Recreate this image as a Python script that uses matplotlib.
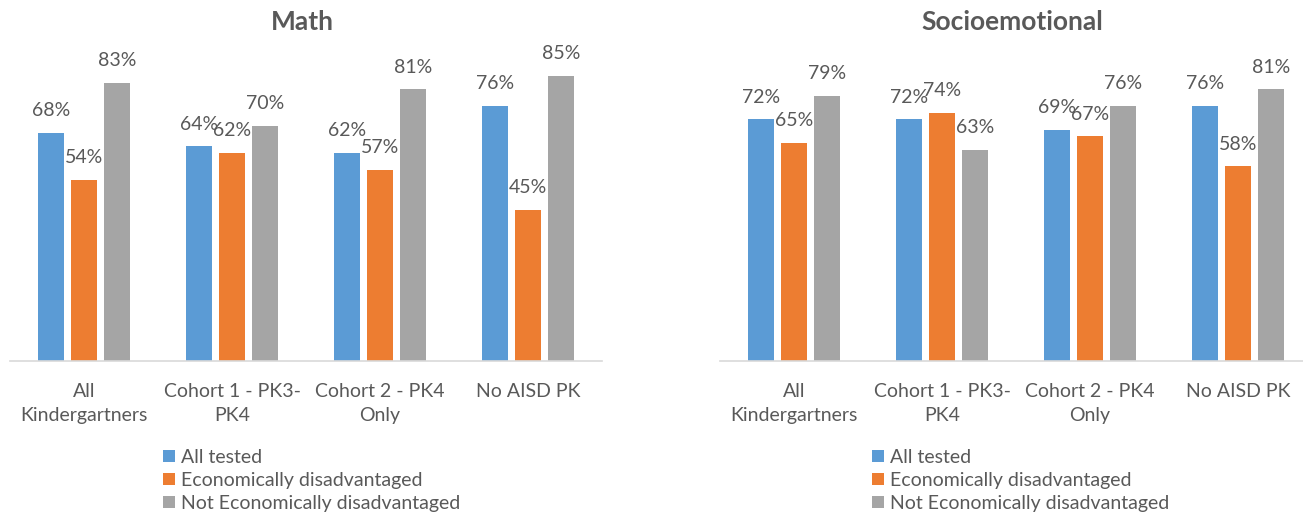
import matplotlib
matplotlib.use("Agg")
import matplotlib.pyplot as plt
import numpy as np

categories = ["All\nKindergartners", "Cohort 1 - PK3-\nPK4", "Cohort 2 - PK4\nOnly", "No AISD PK"]
series_names = ["All tested", "Economically disadvantaged", "Not Economically disadvantaged"]
colors = ["#5B9BD5", "#ED7D31", "#A5A5A5"]

math_all = [68, 64, 62, 76]
math_econ = [54, 62, 57, 45]
math_not_econ = [83, 70, 81, 85]

socio_all = [72, 72, 69, 76]
socio_econ = [65, 74, 67, 58]
socio_not_econ = [79, 63, 76, 81]

TEXT = "#595959"
plt.rcParams["font.family"] = ["Lato", "DejaVu Sans"]


def draw_panel(fig, rect, title, series, legend_x):
    ax = fig.add_axes(rect)
    x = np.arange(len(categories))
    width = 0.172
    pitch = 0.222
    for i, values in enumerate(series):
        pos = x + (i - 1) * pitch
        bars = ax.bar(pos, values, width, color=colors[i], label=series_names[i], zorder=2)
        for b, v in zip(bars, values):
            ax.annotate(f"{v}%", (b.get_x() + b.get_width() / 2, v),
                        xytext=(0, 12), textcoords="offset points",
                        ha="center", va="baseline", fontsize=14, color=TEXT)
    ax.set_xlim(-0.5, len(categories) - 0.5)
    ax.set_ylim(0, 100)
    ax.set_yticks([])
    ax.set_xticks(x)
    ax.set_xticklabels(categories, fontsize=14, color=TEXT, linespacing=1.5)
    ax.tick_params(axis="x", length=0, pad=15.5)
    for side in ["left", "right", "top"]:
        ax.spines[side].set_visible(False)
    ax.spines["bottom"].set_color("#D9D9D9")
    ax.spines["bottom"].set_linewidth(1.2)
    fig.text(rect[0] + rect[2] / 2 - 0.003, 1 - 22 / 517, title, ha="center", va="center",
             fontsize=19, fontweight="bold", color=TEXT)
    ax.legend(loc="upper left", bbox_to_anchor=(legend_x, 1 - 449 / 517),
              bbox_transform=fig.transFigure, frameon=False, fontsize=14,
              handlelength=0.6, handleheight=0.6, handletextpad=0.35,
              labelspacing=0.3, borderpad=0, borderaxespad=0, labelcolor=TEXT)
    return ax


def main():
    fig = plt.figure(figsize=(13.03, 5.17), dpi=100)
    bottom = (517 - 361) / 517
    height = 335.5 / 517
    draw_panel(fig, [10 / 1303, bottom, 592 / 1303, height], "Math",
               [math_all, math_econ, math_not_econ], 163 / 1303)
    draw_panel(fig, [720 / 1303, bottom, 592 / 1303, height], "Socioemotional",
               [socio_all, socio_econ, socio_not_econ], 872 / 1303)
    fig.savefig("out.png", dpi=100)


if __name__ == "__main__":
    main()
